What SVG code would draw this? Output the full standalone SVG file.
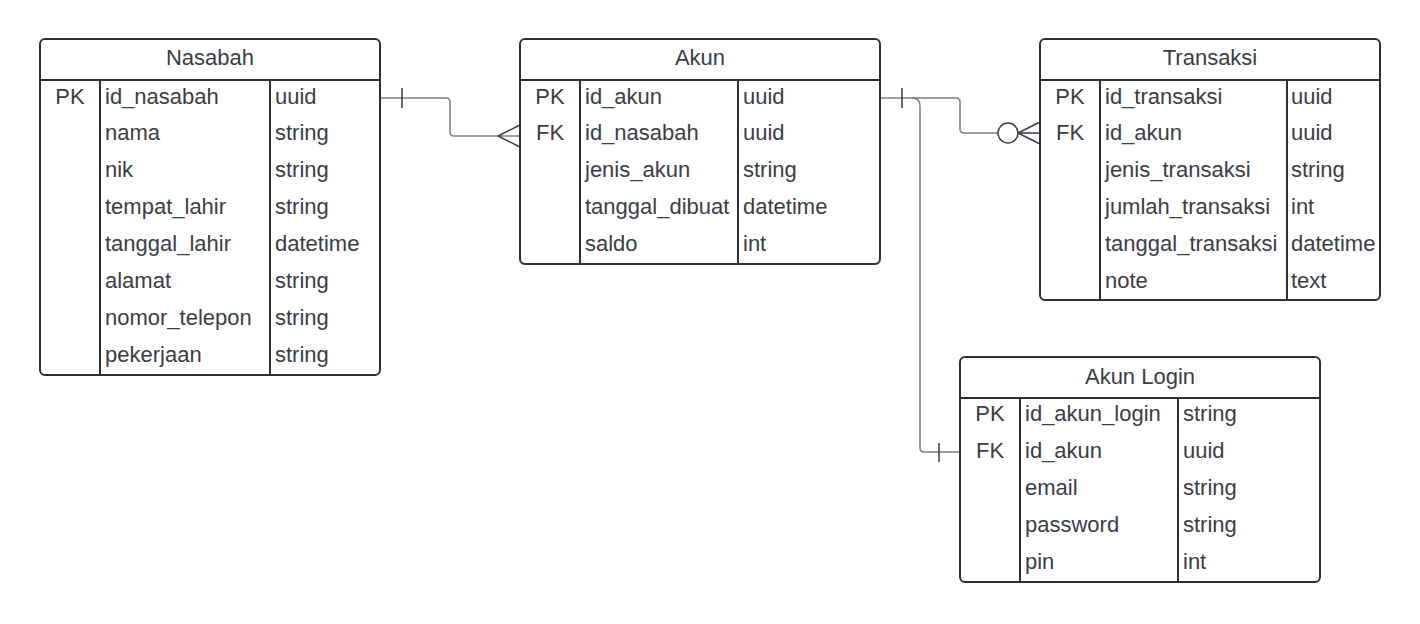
<svg xmlns="http://www.w3.org/2000/svg" width="1420" height="624" viewBox="0 0 1420 624">
<style>
.box{fill:#fff;stroke:#2d3038;stroke-width:2}
.ln{stroke:#2d3038;stroke-width:2;fill:none}
.t{font-family:"Liberation Sans",Arial,sans-serif;font-size:22px;fill:#3a3d45}
.c{text-anchor:middle}
.cn{stroke:#7a7d82;stroke-width:1.5;fill:none}
.bar{stroke:#3a3d45;stroke-width:1.5;fill:none}
</style>
<rect width="1420" height="624" fill="#fff"/>
<g id="connectors">
<path class="cn" d="M380 98 H446 Q450 98 450 102 V132 Q450 136 454 136 H520"/>
<path class="bar" d="M402 88 V108 M498 136 L520 125 M498 136 L520 147"/>
<path class="cn" d="M880 98 H956 Q960 98 960 102 V129 Q960 133 964 133 H998"/>
<path class="cn" d="M912 98 Q920 98 920 106 V448 Q920 452 924 452 H960"/>
<path class="bar" d="M902 88 V108 M939 443 V462"/>
<circle cx="1008" cy="133" r="10" fill="#fff" stroke="#3a3d45" stroke-width="1.5"/>
<path class="bar" d="M1018 133 L1040 122 M1018 133 L1040 144 M1018 133 H1040"/>
</g>
<g id="nasabah">
<rect class="box" x="40" y="39" width="340" height="336" rx="5"/>
<path class="ln" d="M40 80 H380 M100 80 V375 M270 80 V375"/>
<text class="t c" x="210" y="65">Nasabah</text>
<text class="t c" x="70" y="104">PK</text>
<text class="t" x="105" y="104">id_nasabah</text><text class="t" x="275" y="104">uuid</text>
<text class="t" x="105" y="140">nama</text><text class="t" x="275" y="140">string</text>
<text class="t" x="105" y="177">nik</text><text class="t" x="275" y="177">string</text>
<text class="t" x="105" y="214">tempat_lahir</text><text class="t" x="275" y="214">string</text>
<text class="t" x="105" y="251">tanggal_lahir</text><text class="t" x="275" y="251">datetime</text>
<text class="t" x="105" y="288">alamat</text><text class="t" x="275" y="288">string</text>
<text class="t" x="105" y="325">nomor_telepon</text><text class="t" x="275" y="325">string</text>
<text class="t" x="105" y="362">pekerjaan</text><text class="t" x="275" y="362">string</text>
</g>
<g id="akun">
<rect class="box" x="520" y="39" width="360" height="225" rx="5"/>
<path class="ln" d="M520 80 H880 M580 80 V264 M738 80 V264"/>
<text class="t c" x="700" y="65">Akun</text>
<text class="t c" x="550" y="104">PK</text>
<text class="t c" x="550" y="140">FK</text>
<text class="t" x="585" y="104">id_akun</text><text class="t" x="743" y="104">uuid</text>
<text class="t" x="585" y="140">id_nasabah</text><text class="t" x="743" y="140">uuid</text>
<text class="t" x="585" y="177">jenis_akun</text><text class="t" x="743" y="177">string</text>
<text class="t" x="585" y="214">tanggal_dibuat</text><text class="t" x="743" y="214">datetime</text>
<text class="t" x="585" y="251">saldo</text><text class="t" x="743" y="251">int</text>
</g>
<g id="transaksi">
<rect class="box" x="1040" y="39" width="340" height="261" rx="5"/>
<path class="ln" d="M1040 80 H1380 M1100 80 V300 M1287 80 V300"/>
<text class="t c" x="1210" y="65">Transaksi</text>
<text class="t c" x="1070" y="104">PK</text>
<text class="t c" x="1070" y="140">FK</text>
<text class="t" x="1105" y="104">id_transaksi</text><text class="t" x="1291" y="104">uuid</text>
<text class="t" x="1105" y="140">id_akun</text><text class="t" x="1291" y="140">uuid</text>
<text class="t" x="1105" y="177">jenis_transaksi</text><text class="t" x="1291" y="177">string</text>
<text class="t" x="1105" y="214">jumlah_transaksi</text><text class="t" x="1291" y="214">int</text>
<text class="t" x="1105" y="251">tanggal_transaksi</text><text class="t" x="1291" y="251">datetime</text>
<text class="t" x="1105" y="288">note</text><text class="t" x="1291" y="288">text</text>
</g>
<g id="akun-login">
<rect class="box" x="960" y="357" width="360" height="225" rx="5"/>
<path class="ln" d="M960 398 H1320 M1020 398 V582 M1178 398 V582"/>
<text class="t c" x="1140" y="384">Akun Login</text>
<text class="t c" x="990" y="421">PK</text>
<text class="t c" x="990" y="458">FK</text>
<text class="t" x="1025" y="421">id_akun_login</text><text class="t" x="1183" y="421">string</text>
<text class="t" x="1025" y="458">id_akun</text><text class="t" x="1183" y="458">uuid</text>
<text class="t" x="1025" y="495">email</text><text class="t" x="1183" y="495">string</text>
<text class="t" x="1025" y="532">password</text><text class="t" x="1183" y="532">string</text>
<text class="t" x="1025" y="569">pin</text><text class="t" x="1183" y="569">int</text>
</g>
</svg>
